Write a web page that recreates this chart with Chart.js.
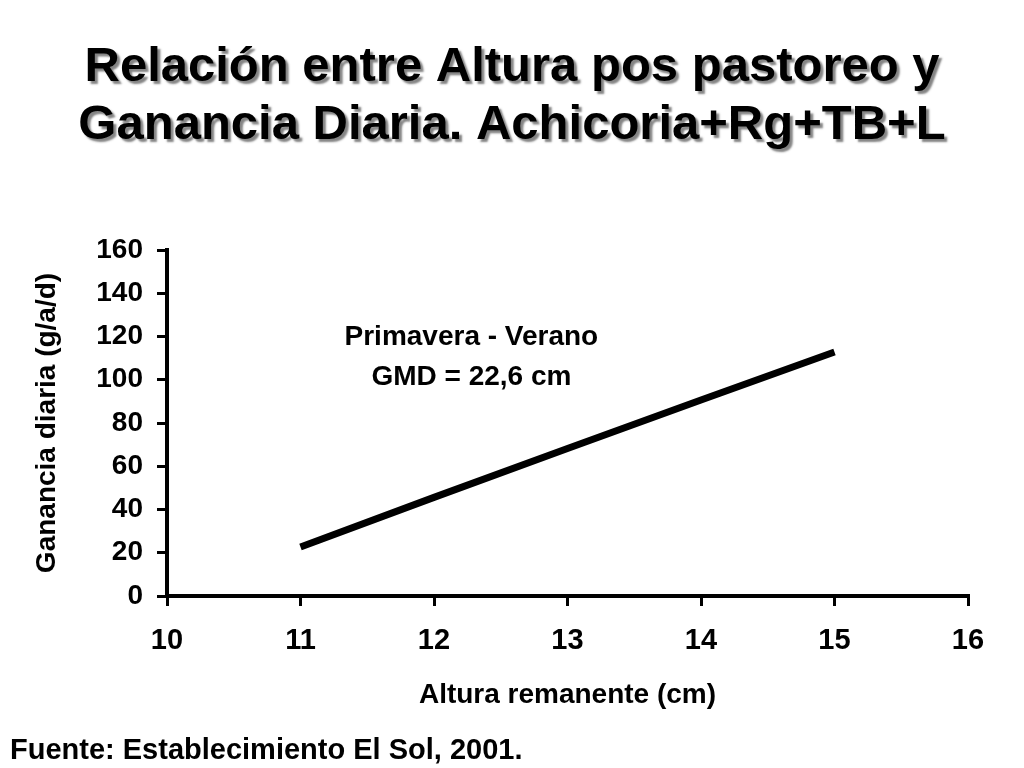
<!DOCTYPE html>
<html>
<head>
<meta charset="utf-8">
<script src="https://cdn.jsdelivr.net/npm/chart.js@4"></script>
<style>
  body { margin: 0; background: #fff; }
  canvas { display: block; }
</style>
</head>
<body>
<canvas id="canvas1" width="1024" height="768"></canvas>
<script>
var alturas = [11, 12, 13, 14, 15];
var ganancias = [22.7, 45.6, 68.2, 90.6, 112.8];
var titleLines = ["Relación entre Altura pos pastoreo y", "Ganancia Diaria. Achicoria+Rg+TB+L"];
var notaLines = ["Primavera - Verano", "GMD = 22,6 cm"];
var fuente = "Fuente: Establecimiento El Sol, 2001.";

var FAM = '"Liberation Sans", Arial, sans-serif';
Chart.defaults.font.family = FAM;
Chart.defaults.color = "#000";

var puntos = alturas.map(function (x, i) { return { x: x, y: ganancias[i] }; });

// title with shadow, the note inside the plot and the source line
var textos = {
  id: "textos",
  afterDraw: function (chart) {
    var ctx = chart.ctx;
    ctx.save();
    ctx.fillStyle = "#000";
    ctx.textAlign = "center";
    ctx.textBaseline = "alphabetic";
    ctx.font = "bold 49px " + FAM;
    ctx.shadowColor = "rgba(110,110,110,0.85)";
    ctx.shadowOffsetX = 3;
    ctx.shadowOffsetY = 3;
    ctx.shadowBlur = 2;
    ctx.fillText(titleLines[0], 512, 81);
    ctx.fillText(titleLines[1], 512, 139);
    ctx.restore();

    ctx.save();
    ctx.fillStyle = "#000";
    ctx.textAlign = "center";
    ctx.textBaseline = "middle";
    ctx.font = "bold 28px " + FAM;
    var xs = chart.scales.x, ys = chart.scales.y;
    ctx.fillText(notaLines[0], xs.getPixelForValue(12.28), ys.getPixelForValue(119.5));
    ctx.fillText(notaLines[1], xs.getPixelForValue(12.28), ys.getPixelForValue(101));
    ctx.textAlign = "left";
    ctx.textBaseline = "alphabetic";
    ctx.font = "bold 29px " + FAM;
    ctx.fillText(fuente, 10, 759);
    ctx.restore();
  }
};

new Chart(document.getElementById("canvas1"), {
  type: "scatter",
  data: {
    datasets: [{
      data: puntos,
      showLine: true,
      borderColor: "#000",
      borderWidth: 7,
      pointRadius: 0,
      tension: 0
    }]
  },
  options: {
    responsive: false,
    animation: false,
    layout: { padding: { top: 250, right: 56, left: 0, bottom: 0 } },
    plugins: { legend: { display: false }, tooltip: { enabled: false } },
    scales: {
      x: {
        type: "linear",
        min: 10, max: 16,
        afterFit: function (s) { s.height = 172; },
        ticks: { stepSize: 1, padding: 18, font: { size: 29, weight: "bold" } },
        grid: { drawOnChartArea: false, drawTicks: true, tickLength: 10, color: "#000", lineWidth: 3 },
        border: { color: "#000", width: 4 },
        title: { display: true, text: "Altura remanente (cm)", font: { size: 28, weight: "bold" }, padding: { top: 0, bottom: 56 } }
      },
      y: {
        min: 0, max: 160,
        afterFit: function (s) { s.width = 167; },
        ticks: { stepSize: 20, padding: 14, font: { size: 28, weight: "bold" } },
        grid: { drawOnChartArea: false, drawTicks: true, tickLength: 10, color: "#000", lineWidth: 3 },
        border: { color: "#000", width: 4 },
        title: { display: true, text: "Ganancia diaria (g/a/d)", font: { size: 28, weight: "bold" }, padding: { top: 30, bottom: 0 } }
      }
    }
  },
  plugins: [textos]
});
</script>
</body>
</html>
